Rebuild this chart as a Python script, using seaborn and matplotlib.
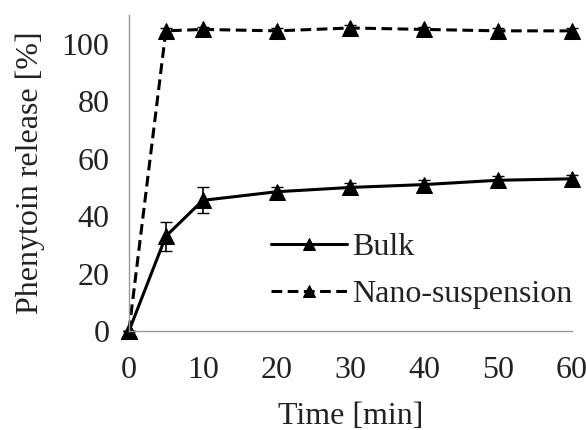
import matplotlib
matplotlib.use("Agg")
import matplotlib.pyplot as plt
import seaborn as sns
import pandas as pd

time = [0, 5, 10, 20, 30, 40, 50, 60]
bulk = [0, 33, 45.5, 48.5, 50, 51, 52.5, 53]
bulk_err = [0, 5, 4.5, 1.5, 1.5, 1.5, 1.5, 1.5]
nano = [0, 104.5, 105, 104.5, 105.5, 105, 104.5, 104.5]
nano_err = [0, 1, 1, 1, 1, 1, 1, 1]
series = ["Bulk", "Nano-suspension"]

sns.set_theme(style="white")
plt.rcParams['font.family'] = ['Liberation Serif', 'DejaVu Serif']

df = pd.DataFrame({
    "time": time * 2,
    "value": bulk + nano,
    "err": bulk_err + nano_err,
    "series": [series[0]] * len(time) + [series[1]] * len(time),
})

FS = 23
fig = plt.figure(figsize=(5.86, 4.30), dpi=100)
ax = fig.add_axes([0.22, 0.23, 0.756, 0.735])

sns.lineplot(data=df, x="time", y="value", style="series", hue="series",
             palette=["black", "black"], dashes={series[0]: "", series[1]: (3.5, 1.8)},
             markers={series[0]: "^", series[1]: "^"}, markersize=11,
             linewidth=2.2, markeredgecolor="black", ax=ax, legend=True)
for s, vals, errs in [(series[0], bulk, bulk_err), (series[1], nano, nano_err)]:
    ax.errorbar(time, vals, yerr=errs, fmt="none", ecolor="black", elinewidth=1.2, capsize=4)

ax.set_xlim(0, 60)
ax.set_ylim(0, 110)
ax.set_xticks([0, 10, 20, 30, 40, 50, 60])
ax.set_yticks([0, 20, 40, 60, 80, 100])
ax.tick_params(axis="both", labelsize=FS, direction="out", length=6, width=1,
               color="#999999", labelcolor="#222222")
ax.tick_params(axis="x", pad=12)
ax.tick_params(axis="y", pad=8)
for side in ["top", "right"]:
    ax.spines[side].set_visible(False)
for side in ["left", "bottom"]:
    ax.spines[side].set_color("#999999")
    ax.spines[side].set_linewidth(1)
ax.set_xlabel("Time [min]", fontsize=FS, color="#222222", labelpad=12)
ax.set_ylabel("Phenytoin release [%]", fontsize=FS, color="#222222", labelpad=12)
for line in ax.lines:
    line.set_clip_on(False)

leg = ax.legend(loc="lower right", bbox_to_anchor=(1.03, 0.03), frameon=False,
                fontsize=FS, handlelength=2.4, handletextpad=0.15, labelspacing=0.55,
                borderaxespad=0)
for h in leg.legend_handles:
    h.set_markersize(8)
for t in leg.get_texts():
    t.set_color("#222222")

fig.savefig("out.png", dpi=100)
